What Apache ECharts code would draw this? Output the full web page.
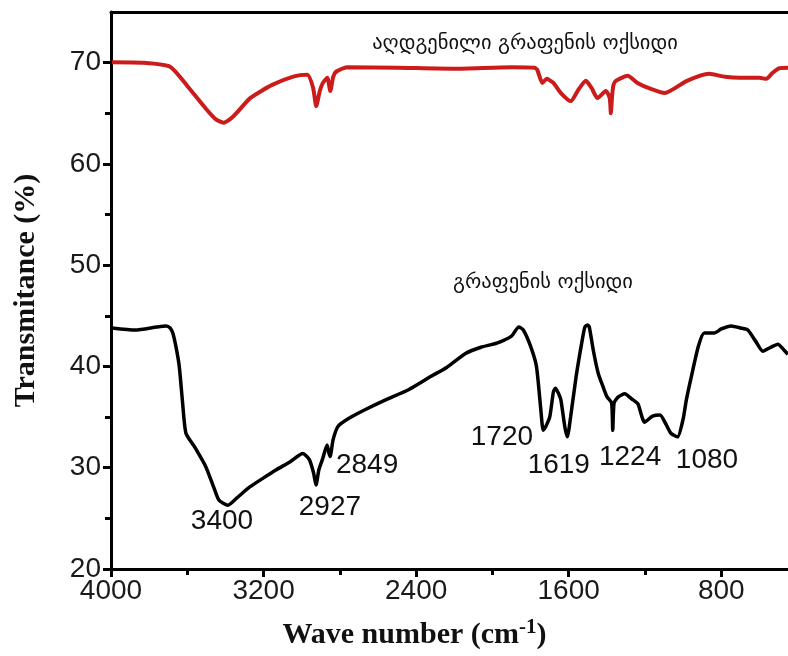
<!DOCTYPE html>
<html>
<head>
<meta charset="utf-8">
<script src="https://cdn.jsdelivr.net/npm/echarts@6.0.0/dist/echarts.min.js"></script>
<style>
html, body { margin: 0; padding: 0; background: #fff; }
#ftir { width: 788px; height: 656px; }
</style>
</head>
<body>
<div id="ftir"></div>
<script>
// reduced graphene oxide (red)
var rgoWave = [3995, 3830, 3690, 3600, 3500, 3450, 3410, 3370, 3340, 3270, 3155, 3040, 2970, 2940, 2924, 2905, 2889, 2866, 2850, 2835, 2820, 2762, 2500, 2200, 1900, 1780, 1765, 1738, 1715, 1703, 1680, 1641, 1589, 1550, 1510, 1480, 1449, 1405, 1385, 1379, 1372, 1365, 1353, 1291, 1239, 1169, 1096, 980, 864, 780, 702, 600, 564, 530, 494, 450];
var rgoT    = [70.05, 70.0, 69.6, 67.7, 65.4, 64.4, 64.07, 64.5, 65.06, 66.5, 67.8, 68.65, 68.8, 67.5, 65.7, 67.2, 68.0, 68.5, 67.2, 68.6, 69.1, 69.55, 69.5, 69.4, 69.55, 69.5, 69.3, 68.0, 68.4, 68.3, 68.0, 67.0, 66.2, 67.3, 68.2, 67.5, 66.5, 67.2, 66.5, 65.0, 66.8, 67.8, 68.2, 68.7, 68.0, 67.4, 67.0, 68.2, 68.9, 68.6, 68.5, 68.5, 68.4, 69.0, 69.45, 69.5];

// graphene oxide (black)
var goWave = [3995, 3873, 3760, 3711, 3690, 3676, 3660, 3642, 3625, 3607, 3560, 3503, 3460, 3434, 3387, 3341, 3272, 3200, 3133, 3060, 2994, 2960, 2938, 2925, 2910, 2890, 2867, 2858, 2851, 2835, 2809, 2750, 2671, 2560, 2440, 2324, 2240, 2139, 2060, 1977, 1900, 1862, 1838, 1800, 1769, 1745, 1734, 1722, 1699, 1680, 1669, 1655, 1641, 1620, 1607, 1590, 1561, 1530, 1515, 1500, 1492, 1470, 1445, 1420, 1399, 1375, 1369, 1362, 1340, 1306, 1270, 1237, 1202, 1160, 1121, 1090, 1064, 1029, 1000, 983, 958, 920, 889, 837, 800, 748, 700, 661, 620, 582, 540, 503, 470, 450];
var goT    = [43.8, 43.6, 43.9, 44.0, 43.8, 43.3, 42.0, 40.0, 36.5, 33.4, 32.0, 30.1, 28.0, 26.8, 26.3, 27.0, 28.1, 29.0, 29.8, 30.6, 31.4, 30.8, 29.5, 28.3, 29.8, 30.9, 32.25, 31.5, 31.1, 32.8, 34.1, 34.9, 35.7, 36.7, 37.7, 39.0, 39.9, 41.3, 41.9, 42.3, 43.0, 43.9, 43.6, 42.0, 40.0, 35.5, 33.7, 34.0, 35.05, 37.5, 37.85, 37.4, 36.7, 34.0, 33.05, 35.0, 39.0, 42.5, 43.9, 44.1, 43.9, 41.5, 39.3, 38.0, 37.0, 36.4, 33.7, 36.4, 37.0, 37.3, 36.8, 36.3, 34.5, 35.1, 35.2, 34.3, 33.4, 33.05, 34.8, 36.7, 38.9, 42.0, 43.3, 43.3, 43.7, 44.0, 43.8, 43.6, 42.5, 41.5, 41.9, 42.2, 41.6, 41.2];

// peak annotations and where their text sits (wavenumber, transmittance)
var peakNames = ['3400', '2927', '2849', '1720', '1619', '1224', '1080'];
var peakTextAt = [[3418, 24.74], [2852, 26.1], [2657, 30.2], [1950, 33.04], [1652, 30.2], [1278, 31.07], [875, 30.7]];

var xMajor = [4000, 3200, 2400, 1600, 800];
var xMinor = [3600, 2800, 2000, 1200];
var yMajor = [20, 30, 40, 50, 60, 70];

var rgoLabel = 'აღდგენილი გრაფენის ოქსიდი';
var goLabel = 'გრაფენის ოქსიდი';

function zip(xs, ys) {
    var out = [];
    for (var i = 0; i < xs.length; i++) out.push([xs[i], ys[i]]);
    return out;
}

var chart = echarts.init(document.getElementById('ftir'));

var tickFont = { color: '#1a1a1a', fontFamily: 'Liberation Sans', fontSize: 28 };
var axisLine = { show: true, lineStyle: { color: '#000', width: 3 } };
var plain = function (v) { return String(v); };

var option = {
    animation: false,
    backgroundColor: '#fff',
    grid: { left: 111, right: 0, top: 12, bottom: 87 },
    xAxis: [
        {
            type: 'value', inverse: true, min: 450, max: 4000,
            position: 'bottom',
            axisLine: axisLine,
            axisTick: { show: true, length: 8, lineStyle: { width: 3, color: '#000' }, customValues: xMajor },
            axisLabel: Object.assign({ margin: 8, customValues: xMajor, formatter: plain }, tickFont),
            splitLine: { show: false },
            name: 'Wave number (cm{sup|-1})',
            nameLocation: 'middle',
            nameGap: 48,
            nameTextStyle: {
                fontFamily: 'Liberation Serif', fontWeight: 'bold', fontSize: 30, color: '#111',
                padding: [0, 70, 0, 0],
                rich: { sup: { fontFamily: 'Liberation Serif', fontWeight: 'bold', fontSize: 21, padding: [0, 0, 16, 0] } }
            }
        },
        {
            type: 'value', inverse: true, min: 450, max: 4000,
            position: 'bottom',
            axisLine: { show: false },
            axisTick: { show: true, length: 6, lineStyle: { width: 3, color: '#000' }, customValues: xMinor },
            axisLabel: { show: false },
            splitLine: { show: false }
        },
        {
            type: 'value', inverse: true, min: 450, max: 4000,
            position: 'top',
            axisLine: axisLine,
            axisTick: { show: false },
            axisLabel: { show: false },
            splitLine: { show: false }
        }
    ],
    yAxis: {
        type: 'value', min: 20, max: 75, interval: 10,
        axisLine: axisLine,
        axisTick: { show: true, length: 8, lineStyle: { width: 3, color: '#000' }, customValues: yMajor },
        minorTick: { show: true, splitNumber: 2, length: 6, lineStyle: { width: 3, color: '#000' } },
        axisLabel: Object.assign({ margin: 10, customValues: yMajor, formatter: plain }, tickFont),
        splitLine: { show: false },
        name: 'Transmitance (%)',
        nameLocation: 'middle',
        nameGap: 70,
        nameTextStyle: { fontFamily: 'Liberation Serif', fontWeight: 'bold', fontSize: 30, color: '#111' }
    },
    graphic: [
        { type: 'text', x: 525, y: 44, style: { text: rgoLabel, fontFamily: 'DejaVu Sans', fontSize: 20.5, fill: '#111', align: 'center', verticalAlign: 'middle' } },
        { type: 'text', x: 543, y: 283, style: { text: goLabel, fontFamily: 'DejaVu Sans', fontSize: 20.5, fill: '#111', align: 'center', verticalAlign: 'middle' } }
    ],
    series: [
        {
            name: rgoLabel, type: 'line', xAxisIndex: 0,
            data: zip(rgoWave, rgoT),
            showSymbol: false, smooth: 0.2,
            lineStyle: { color: '#cc1b1b', width: 4 }
        },
        {
            name: goLabel, type: 'line', xAxisIndex: 0,
            data: zip(goWave, goT),
            showSymbol: false, smooth: 0.2,
            lineStyle: { color: '#000', width: 3.5 },
            markPoint: {
                symbol: 'circle', symbolSize: 0,
                label: { show: true, position: 'inside', formatter: '{b}', color: '#111', fontFamily: 'Liberation Sans', fontSize: 28 },
                data: peakNames.map(function (n, i) { return { name: n, coord: peakTextAt[i] }; })
            }
        }
    ]
};

chart.setOption(option);
</script>
</body>
</html>
